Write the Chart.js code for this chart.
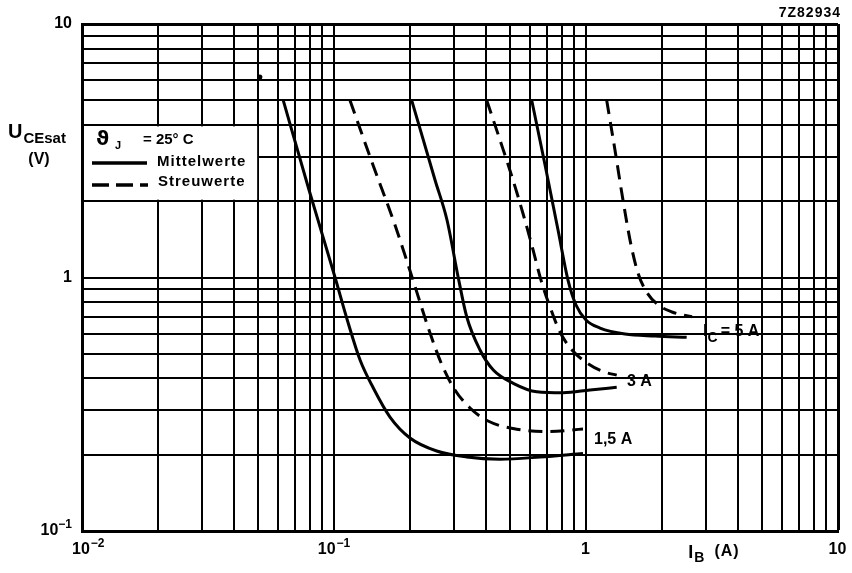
<!DOCTYPE html>
<html>
<head>
<meta charset="utf-8">
<script src="https://cdn.jsdelivr.net/npm/chart.js@4.4.0/dist/chart.umd.min.js"></script>
<style>
  html, body { margin: 0; padding: 0; background: #fff; }
  #wrap { width: 852px; height: 573px; position: relative; }
</style>
</head>
<body>
<div id="wrap"><canvas id="uceChart"></canvas></div>
<script>
// I_B (A) / U_CEsat (V)
const ib15Mittel  = [0.0629, 0.0796, 0.101, 0.1139, 0.1269, 0.1432, 0.1668, 0.2002, 0.2556, 0.3363, 0.456, 0.657, 0.973];
const uce15Mittel = [5.0, 2.214, 1.0, 0.66, 0.4727, 0.3665, 0.2815, 0.2328, 0.2068, 0.1958, 0.192, 0.1958, 0.2023];
const ib15Streu   = [0.1157, 0.1428, 0.1746, 0.2058, 0.2382, 0.2683, 0.302, 0.3465, 0.4085, 0.5133, 0.70, 0.973];
const uce15Streu  = [5.0, 2.778, 1.611, 0.977, 0.6206, 0.4516, 0.360, 0.3057, 0.2715, 0.2537, 0.2467, 0.2526];

const ib3Mittel   = [0.2034, 0.2517, 0.2808, 0.3113, 0.3363, 0.3796, 0.4287, 0.5145, 0.6374, 0.8128, 1.037, 1.324];
const uce3Mittel  = [5.0, 2.424, 1.686, 0.998, 0.70, 0.5176, 0.4315, 0.3825, 0.3543, 0.3512, 0.360, 0.3689];
const ib3Streu    = [0.4036, 0.4557, 0.5133, 0.5675, 0.6165, 0.6628, 0.7198, 0.7885, 0.8799, 1.0093, 1.172, 1.324];
const uce3Streu   = [5.0, 3.486, 2.424, 1.732, 1.284, 0.977, 0.7648, 0.6095, 0.5176, 0.46, 0.425, 0.412];

const ib5Mittel   = [0.6089, 0.6879, 0.7745, 0.8483, 0.9127, 1.0, 1.137, 1.428, 1.878, 2.509];
const uce5Mittel  = [5.0, 2.778, 1.539, 0.977, 0.779, 0.6797, 0.632, 0.5985, 0.5878, 0.581];
const ib5Streu    = [1.208, 1.303, 1.402, 1.509, 1.608, 1.730, 1.913, 2.194, 2.634];
const uce5Streu   = [5.0, 3.184, 2.02, 1.343, 1.042, 0.8844, 0.786, 0.7311, 0.7003];

// stray ink dot on the original sheet
const ibDot  = [0.0508];
const uceDot = [6.18];

// grid lines (log paper) and decade labels
const xGridValues = [0.01, 0.02, 0.03, 0.04, 0.05, 0.06, 0.07, 0.08, 0.09,
                     0.1, 0.2, 0.3, 0.4, 0.5, 0.6, 0.7, 0.8, 0.9,
                     1, 2, 3, 4, 5, 6, 7, 8, 9, 10];
const yGridValues = [0.1, 0.2, 0.3, 0.4, 0.5, 0.6, 0.7, 0.8, 0.9,
                     1, 2, 3, 4, 5, 6, 7, 8, 9, 10];
const xTickValues = [0.01, 0.1, 1, 10];
const xTickLabels = [['10', '\u22122'], ['10', '\u22121'], ['1', ''], ['10', '']];
const yTickValues = [0.1, 1, 10];
const yTickLabels = [['10', '\u22121'], ['1', ''], ['10', '']];

// curve labels: text + anchor in data units
const curveLabels = ['1,5 A', '3 A', '5 A'];
const labelIB  = [1.076, 1.454, 2.91];
const labelUCE = [0.2286, 0.388, 0.611];

const pts = (xs, ys) => xs.map((x, i) => ({ x: x, y: ys[i] }));

const FONT = "'Liberation Sans', Arial, sans-serif";
const bold = (px) => 'bold ' + px + 'px ' + FONT;

function drawRun(ctx, x, y, parts, align) {
  let w = 0;
  parts.forEach(p => {
    ctx.font = p.font;
    p.w = ctx.measureText(p.t).width;
    w += p.w + (p.gap || 0);
  });
  let cx = align === 'right' ? x - w : align === 'center' ? x - w / 2 : x;
  parts.forEach(p => {
    ctx.font = p.font;
    ctx.fillText(p.t, cx, y + (p.dy || 0));
    cx += p.w + (p.gap || 0);
  });
}

const lineStyle = (dashed) => ({
  borderColor: '#000',
  borderWidth: 3,
  borderDash: dashed ? [14, 8] : [],
  pointRadius: 0,
  cubicInterpolationMode: 'monotone',
  fill: false
});

const legendBox = {
  id: 'legendBox',
  beforeDatasetsDraw(chart) {
    const { ctx, chartArea, scales } = chart;
    const left = chartArea.left;
    const right = scales.x.getPixelForValue(0.05);
    const top = scales.y.getPixelForValue(4);
    const bottom = scales.y.getPixelForValue(2);
    ctx.save();
    ctx.fillStyle = '#fff';
    ctx.fillRect(left + 2, top + 1.5, right - left - 3, bottom - top - 3);
    ctx.fillStyle = '#000';
    ctx.textBaseline = 'middle';
    ctx.textAlign = 'left';
    ctx.font = "bold 20px 'DejaVu Sans', sans-serif";
    ctx.fillText('\u03D1', left + 14, top + 15);
    ctx.font = bold(11);
    ctx.fillText('J', left + 33, top + 21);
    ctx.font = bold(15);
    ctx.fillText('= 25\u00B0 C', left + 61, top + 15);

    ctx.strokeStyle = '#000';
    ctx.lineWidth = 3.5;
    ctx.beginPath();
    ctx.moveTo(left + 10, top + 38);
    ctx.lineTo(left + 65, top + 38);
    ctx.stroke();
    ctx.setLineDash([17, 7]);
    ctx.beginPath();
    ctx.moveTo(left + 10, top + 60);
    ctx.lineTo(left + 66, top + 60);
    ctx.stroke();
    ctx.setLineDash([]);

    ctx.font = bold(15);
    ctx.letterSpacing = '1px';
    ctx.fillText('Mittelwerte', left + 75, top + 37);
    ctx.fillText('Streuwerte', left + 76, top + 57);
    ctx.restore();
  }
};

const paperText = {
  id: 'paperText',
  afterDraw(chart) {
    const { ctx, chartArea, scales } = chart;
    ctx.save();
    ctx.fillStyle = '#000';
    ctx.textBaseline = 'middle';
    ctx.textAlign = 'left';

    // decade labels
    yTickValues.forEach((v, i) => {
      const py = scales.y.getPixelForValue(v);
      const [base, sup] = yTickLabels[i];
      const parts = [{ t: base, font: bold(16) }];
      if (sup) parts.push({ t: sup, font: bold(12), dy: -6, gap: 0 });
      drawRun(ctx, chartArea.left - 10, py, parts, 'right');
    });
    xTickValues.forEach((v, i) => {
      const px = scales.x.getPixelForValue(v);
      const [base, sup] = xTickLabels[i];
      const parts = [{ t: base, font: bold(16), gap: 1 }];
      if (sup) parts.push({ t: sup, font: bold(12), dy: -6 });
      if (i === 0) drawRun(ctx, px - 10, chartArea.bottom + 19, parts, 'left');
      else drawRun(ctx, px, chartArea.bottom + 19, parts, 'center');
    });

    // axis titles
    const ty = scales.y.getPixelForValue(4) + 8;
    drawRun(ctx, 8, ty, [
      { t: 'U', font: bold(20), gap: 1 },
      { t: 'CEsat', font: bold(15), dy: 6 }
    ], 'left');
    drawRun(ctx, 39, ty + 27, [{ t: '(V)', font: bold(16) }], 'center');

    const tx = scales.x.getPixelForValue(2.5) + 2;
    ctx.letterSpacing = '1px';
    drawRun(ctx, tx, chartArea.bottom + 22, [
      { t: 'I', font: bold(18), gap: 0 },
      { t: 'B', font: bold(14), dy: 5, gap: 9 },
      { t: '(A)', font: bold(16), dy: -1 }
    ], 'left');
    ctx.letterSpacing = '0px';

    // curve labels
    curveLabels.forEach((txt, i) => {
      const px = scales.x.getPixelForValue(labelIB[i]);
      const py = scales.y.getPixelForValue(labelUCE[i]);
      if (i === 2) {
        drawRun(ctx, px, py, [
          { t: 'I', font: bold(17), gap: 0 },
          { t: 'C', font: bold(14), dy: 6, gap: 3 },
          { t: '= ' + txt, font: bold(16) }
        ], 'left');
      } else {
        drawRun(ctx, px, py, [{ t: txt, font: bold(16) }], 'left');
      }
    });

    // drawing number
    ctx.letterSpacing = '1px';
    drawRun(ctx, chartArea.right + 3, 13, [{ t: '7Z82934', font: bold(14) }], 'right');
    ctx.restore();
  }
};

const logAxis = (min, max, grid) => ({
  type: 'logarithmic',
  min: min,
  max: max,
  afterBuildTicks: (axis) => { axis.ticks = grid.map(v => ({ value: v })); },
  ticks: { display: false },
  grid: {
    color: '#000',
    lineWidth: (c) => (c.tick && c.tick.value === max ? 3 : 2),
    drawTicks: false
  },
  border: { display: true, color: '#000', width: 3 }
});

new Chart(document.getElementById('uceChart'), {
  type: 'line',
  data: {
    datasets: [
      { label: 'Mittelwerte 1,5 A', data: pts(ib15Mittel, uce15Mittel), ...lineStyle(false) },
      { label: 'Streuwerte 1,5 A', data: pts(ib15Streu, uce15Streu), ...lineStyle(true) },
      { label: 'Mittelwerte 3 A', data: pts(ib3Mittel, uce3Mittel), ...lineStyle(false) },
      { label: 'Streuwerte 3 A', data: pts(ib3Streu, uce3Streu), ...lineStyle(true) },
      { label: 'Mittelwerte 5 A', data: pts(ib5Mittel, uce5Mittel), ...lineStyle(false) },
      { label: 'Streuwerte 5 A', data: pts(ib5Streu, uce5Streu), ...lineStyle(true) },
      {
        label: 'dot', data: pts(ibDot, uceDot), showLine: false,
        pointRadius: 2.5, pointBackgroundColor: '#000', pointBorderWidth: 0
      }
    ]
  },
  options: {
    responsive: true,
    maintainAspectRatio: false,
    animation: false,
    layout: { padding: { left: 82, right: 14, top: 24, bottom: 42 } },
    plugins: {
      legend: { display: false },
      tooltip: { enabled: false }
    },
    scales: {
      x: logAxis(0.01, 10, xGridValues),
      y: logAxis(0.1, 10, yGridValues)
    }
  },
  plugins: [legendBox, paperText]
});
</script>
</body>
</html>
